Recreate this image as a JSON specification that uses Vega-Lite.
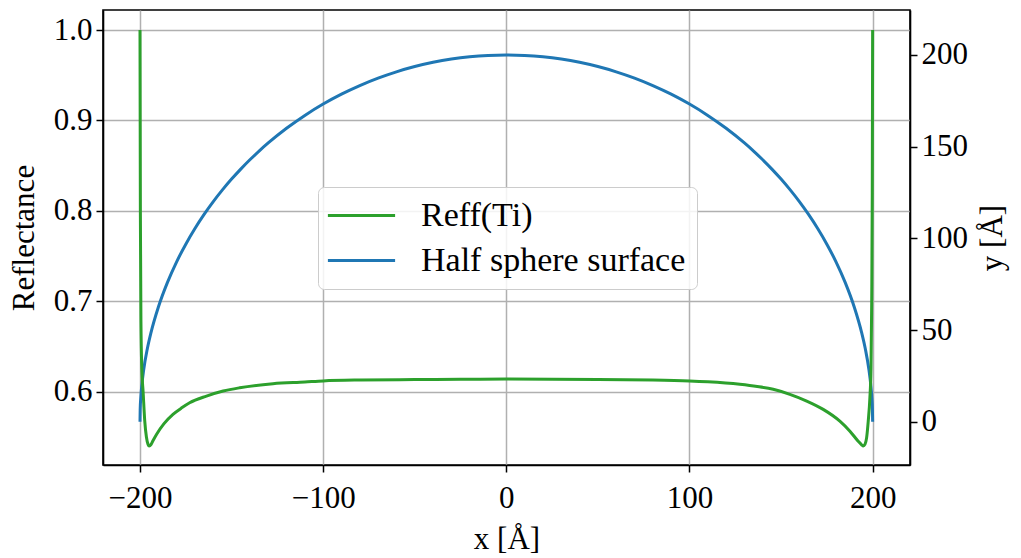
{
  "$schema": "https://vega.github.io/schema/vega-lite/v6.json",
  "width": 807,
  "height": 455,
  "autosize": {"type": "none"},
  "padding": {"left": 103, "top": 10, "right": 111, "bottom": 93},
  "background": "white",
  "config": {
    "font": "Liberation Serif",
    "view": {"stroke": "black", "strokeWidth": 1.6},
    "axis": {
      "labelFont": "Liberation Serif",
      "titleFont": "Liberation Serif",
      "labelFontSize": 31,
      "titleFontSize": 31,
      "labelColor": "black",
      "titleColor": "black",
      "titleFontWeight": "normal",
      "domainColor": "black",
      "domainWidth": 1.6,
      "tickColor": "black",
      "tickWidth": 1.5,
      "tickSize": 7,
      "gridColor": "#b0b0b0",
      "gridWidth": 1.5
    }
  },
  "datasets": {
    "reff": [
      {"x": -200, "r": 1.0, "series": "Reff(Ti)"},
      {"x": -199.8, "r": 0.8, "series": "Reff(Ti)"},
      {"x": -199.5, "r": 0.68, "series": "Reff(Ti)"},
      {"x": -199, "r": 0.625, "series": "Reff(Ti)"},
      {"x": -198.3, "r": 0.6, "series": "Reff(Ti)"},
      {"x": -197.4, "r": 0.5675, "series": "Reff(Ti)"},
      {"x": -196.5, "r": 0.55, "series": "Reff(Ti)"},
      {"x": -195.6, "r": 0.5418, "series": "Reff(Ti)"},
      {"x": -195, "r": 0.54, "series": "Reff(Ti)"},
      {"x": -194, "r": 0.5415, "series": "Reff(Ti)"},
      {"x": -193, "r": 0.5455, "series": "Reff(Ti)"},
      {"x": -191, "r": 0.5528, "series": "Reff(Ti)"},
      {"x": -187, "r": 0.5645, "series": "Reff(Ti)"},
      {"x": -182, "r": 0.575, "series": "Reff(Ti)"},
      {"x": -177, "r": 0.5825, "series": "Reff(Ti)"},
      {"x": -172.9, "r": 0.5878, "series": "Reff(Ti)"},
      {"x": -163.7, "r": 0.5952, "series": "Reff(Ti)"},
      {"x": -154.6, "r": 0.6008, "series": "Reff(Ti)"},
      {"x": -145.6, "r": 0.6044, "series": "Reff(Ti)"},
      {"x": -127.4, "r": 0.6089, "series": "Reff(Ti)"},
      {"x": -110, "r": 0.6108, "series": "Reff(Ti)"},
      {"x": -100, "r": 0.612, "series": "Reff(Ti)"},
      {"x": -80, "r": 0.613, "series": "Reff(Ti)"},
      {"x": -50, "r": 0.6135, "series": "Reff(Ti)"},
      {"x": -25, "r": 0.6138, "series": "Reff(Ti)"},
      {"x": 0, "r": 0.614, "series": "Reff(Ti)"},
      {"x": 25, "r": 0.6138, "series": "Reff(Ti)"},
      {"x": 50, "r": 0.6135, "series": "Reff(Ti)"},
      {"x": 80, "r": 0.613, "series": "Reff(Ti)"},
      {"x": 100, "r": 0.612, "series": "Reff(Ti)"},
      {"x": 110, "r": 0.611, "series": "Reff(Ti)"},
      {"x": 127.5, "r": 0.6082, "series": "Reff(Ti)"},
      {"x": 137, "r": 0.6058, "series": "Reff(Ti)"},
      {"x": 145.7, "r": 0.6027, "series": "Reff(Ti)"},
      {"x": 154.8, "r": 0.5971, "series": "Reff(Ti)"},
      {"x": 164, "r": 0.5897, "series": "Reff(Ti)"},
      {"x": 173, "r": 0.5805, "series": "Reff(Ti)"},
      {"x": 182.1, "r": 0.5675, "series": "Reff(Ti)"},
      {"x": 187.6, "r": 0.5564, "series": "Reff(Ti)"},
      {"x": 192.1, "r": 0.5453, "series": "Reff(Ti)"},
      {"x": 194, "r": 0.5413, "series": "Reff(Ti)"},
      {"x": 194.9, "r": 0.54, "series": "Reff(Ti)"},
      {"x": 195.8, "r": 0.5418, "series": "Reff(Ti)"},
      {"x": 196.7, "r": 0.549, "series": "Reff(Ti)"},
      {"x": 197.6, "r": 0.5675, "series": "Reff(Ti)"},
      {"x": 198.5, "r": 0.5933, "series": "Reff(Ti)"},
      {"x": 199.1, "r": 0.625, "series": "Reff(Ti)"},
      {"x": 199.5, "r": 0.7, "series": "Reff(Ti)"},
      {"x": 199.8, "r": 0.82, "series": "Reff(Ti)"},
      {"x": 200, "r": 1.0, "series": "Reff(Ti)"}
    ],
    "sphere": [
      {"x": -200, "y": 0, "series": "Half sphere surface"},
      {"x": -199.9, "y": 6.32, "series": "Half sphere surface"},
      {"x": -199.5, "y": 14.13, "series": "Half sphere surface"},
      {"x": -199, "y": 19.97, "series": "Half sphere surface"},
      {"x": -198, "y": 28.21, "series": "Half sphere surface"},
      {"x": -196, "y": 39.8, "series": "Half sphere surface"},
      {"x": -194, "y": 48.62, "series": "Half sphere surface"},
      {"x": -190, "y": 62.45, "series": "Half sphere surface"},
      {"x": -185, "y": 75.99, "series": "Half sphere surface"},
      {"x": -180, "y": 87.18, "series": "Half sphere surface"},
      {"x": -175, "y": 96.82, "series": "Half sphere surface"},
      {"x": -170, "y": 105.36, "series": "Half sphere surface"},
      {"x": -165, "y": 113.03, "series": "Half sphere surface"},
      {"x": -160, "y": 120, "series": "Half sphere surface"},
      {"x": -155, "y": 126.39, "series": "Half sphere surface"},
      {"x": -150, "y": 132.29, "series": "Half sphere surface"},
      {"x": -145, "y": 137.75, "series": "Half sphere surface"},
      {"x": -140, "y": 142.83, "series": "Half sphere surface"},
      {"x": -135, "y": 147.56, "series": "Half sphere surface"},
      {"x": -130, "y": 151.99, "series": "Half sphere surface"},
      {"x": -120, "y": 160, "series": "Half sphere surface"},
      {"x": -110, "y": 167.03, "series": "Half sphere surface"},
      {"x": -100, "y": 173.21, "series": "Half sphere surface"},
      {"x": -90, "y": 178.61, "series": "Half sphere surface"},
      {"x": -80, "y": 183.3, "series": "Half sphere surface"},
      {"x": -70, "y": 187.35, "series": "Half sphere surface"},
      {"x": -60, "y": 190.79, "series": "Half sphere surface"},
      {"x": -50, "y": 193.65, "series": "Half sphere surface"},
      {"x": -40, "y": 195.96, "series": "Half sphere surface"},
      {"x": -30, "y": 197.74, "series": "Half sphere surface"},
      {"x": -20, "y": 199.0, "series": "Half sphere surface"},
      {"x": -10, "y": 199.75, "series": "Half sphere surface"},
      {"x": 0, "y": 200, "series": "Half sphere surface"},
      {"x": 10, "y": 199.75, "series": "Half sphere surface"},
      {"x": 20, "y": 199.0, "series": "Half sphere surface"},
      {"x": 30, "y": 197.74, "series": "Half sphere surface"},
      {"x": 40, "y": 195.96, "series": "Half sphere surface"},
      {"x": 50, "y": 193.65, "series": "Half sphere surface"},
      {"x": 60, "y": 190.79, "series": "Half sphere surface"},
      {"x": 70, "y": 187.35, "series": "Half sphere surface"},
      {"x": 80, "y": 183.3, "series": "Half sphere surface"},
      {"x": 90, "y": 178.61, "series": "Half sphere surface"},
      {"x": 100, "y": 173.21, "series": "Half sphere surface"},
      {"x": 110, "y": 167.03, "series": "Half sphere surface"},
      {"x": 120, "y": 160, "series": "Half sphere surface"},
      {"x": 130, "y": 151.99, "series": "Half sphere surface"},
      {"x": 135, "y": 147.56, "series": "Half sphere surface"},
      {"x": 140, "y": 142.83, "series": "Half sphere surface"},
      {"x": 145, "y": 137.75, "series": "Half sphere surface"},
      {"x": 150, "y": 132.29, "series": "Half sphere surface"},
      {"x": 155, "y": 126.39, "series": "Half sphere surface"},
      {"x": 160, "y": 120, "series": "Half sphere surface"},
      {"x": 165, "y": 113.03, "series": "Half sphere surface"},
      {"x": 170, "y": 105.36, "series": "Half sphere surface"},
      {"x": 175, "y": 96.82, "series": "Half sphere surface"},
      {"x": 180, "y": 87.18, "series": "Half sphere surface"},
      {"x": 185, "y": 75.99, "series": "Half sphere surface"},
      {"x": 190, "y": 62.45, "series": "Half sphere surface"},
      {"x": 194, "y": 48.62, "series": "Half sphere surface"},
      {"x": 196, "y": 39.8, "series": "Half sphere surface"},
      {"x": 198, "y": 28.21, "series": "Half sphere surface"},
      {"x": 199, "y": 19.97, "series": "Half sphere surface"},
      {"x": 199.5, "y": 14.13, "series": "Half sphere surface"},
      {"x": 199.9, "y": 6.32, "series": "Half sphere surface"},
      {"x": 200, "y": 0, "series": "Half sphere surface"}
    ]
  },
  "encoding": {
    "x": {
      "field": "x",
      "type": "quantitative",
      "scale": {"domain": [-220.2, 220.4], "nice": false, "zero": false},
      "axis": {
        "title": "x [Å]",
        "values": [-200, -100, 0, 100, 200],
        "grid": true,
        "labelPadding": 11,
        "titlePadding": 11
      }
    },
    "color": {
      "field": "series",
      "type": "nominal",
      "scale": {
        "domain": ["Reff(Ti)", "Half sphere surface"],
        "range": ["#2ca02c", "#1f77b4"]
      },
      "legend": {
        "title": null,
        "orient": "none",
        "legendX": 215,
        "legendY": 177,
        "symbolType": "M-2.1,0H2.1",
        "symbolSize": 1024,
        "symbolStrokeWidth": 3,
        "symbolOffset": 15,
        "labelFont": "Liberation Serif",
        "labelFontSize": 34,
        "labelColor": "black",
        "labelOffset": 42,
        "rowPadding": 10,
        "padding": 11,
        "cornerRadius": 6,
        "strokeColor": "#cccccc",
        "fillColor": "rgba(255,255,255,0.85)",
        "labelLimit": 400
      }
    }
  },
  "layer": [
    {
      "data": {"name": "sphere"},
      "mark": {"type": "line", "strokeWidth": 3, "interpolate": "monotone"},
      "encoding": {
        "y": {
          "field": "y",
          "type": "quantitative",
          "scale": {"domain": [-23.6, 224.5], "nice": false, "zero": false},
          "axis": {
            "orient": "right",
            "title": "y [Å]",
            "values": [0, 50, 100, 150, 200],
            "grid": false,
            "labelPadding": 4,
            "titleAngle": 270,
            "titleBaseline": "top",
            "titlePadding": 10
          }
        }
      }
    },
    {
      "data": {"name": "reff"},
      "mark": {"type": "line", "strokeWidth": 3, "interpolate": "monotone"},
      "encoding": {
        "y": {
          "field": "r",
          "type": "quantitative",
          "scale": {"domain": [0.519, 1.0222], "nice": false, "zero": false},
          "axis": {
            "orient": "left",
            "title": "Reflectance",
            "values": [0.6, 0.7, 0.8, 0.9, 1.0],
            "format": ".1f",
            "grid": true,
            "labelPadding": 4,
            "titlePadding": 13
          }
        }
      }
    }
  ],
  "resolve": {"scale": {"y": "independent"}}
}
